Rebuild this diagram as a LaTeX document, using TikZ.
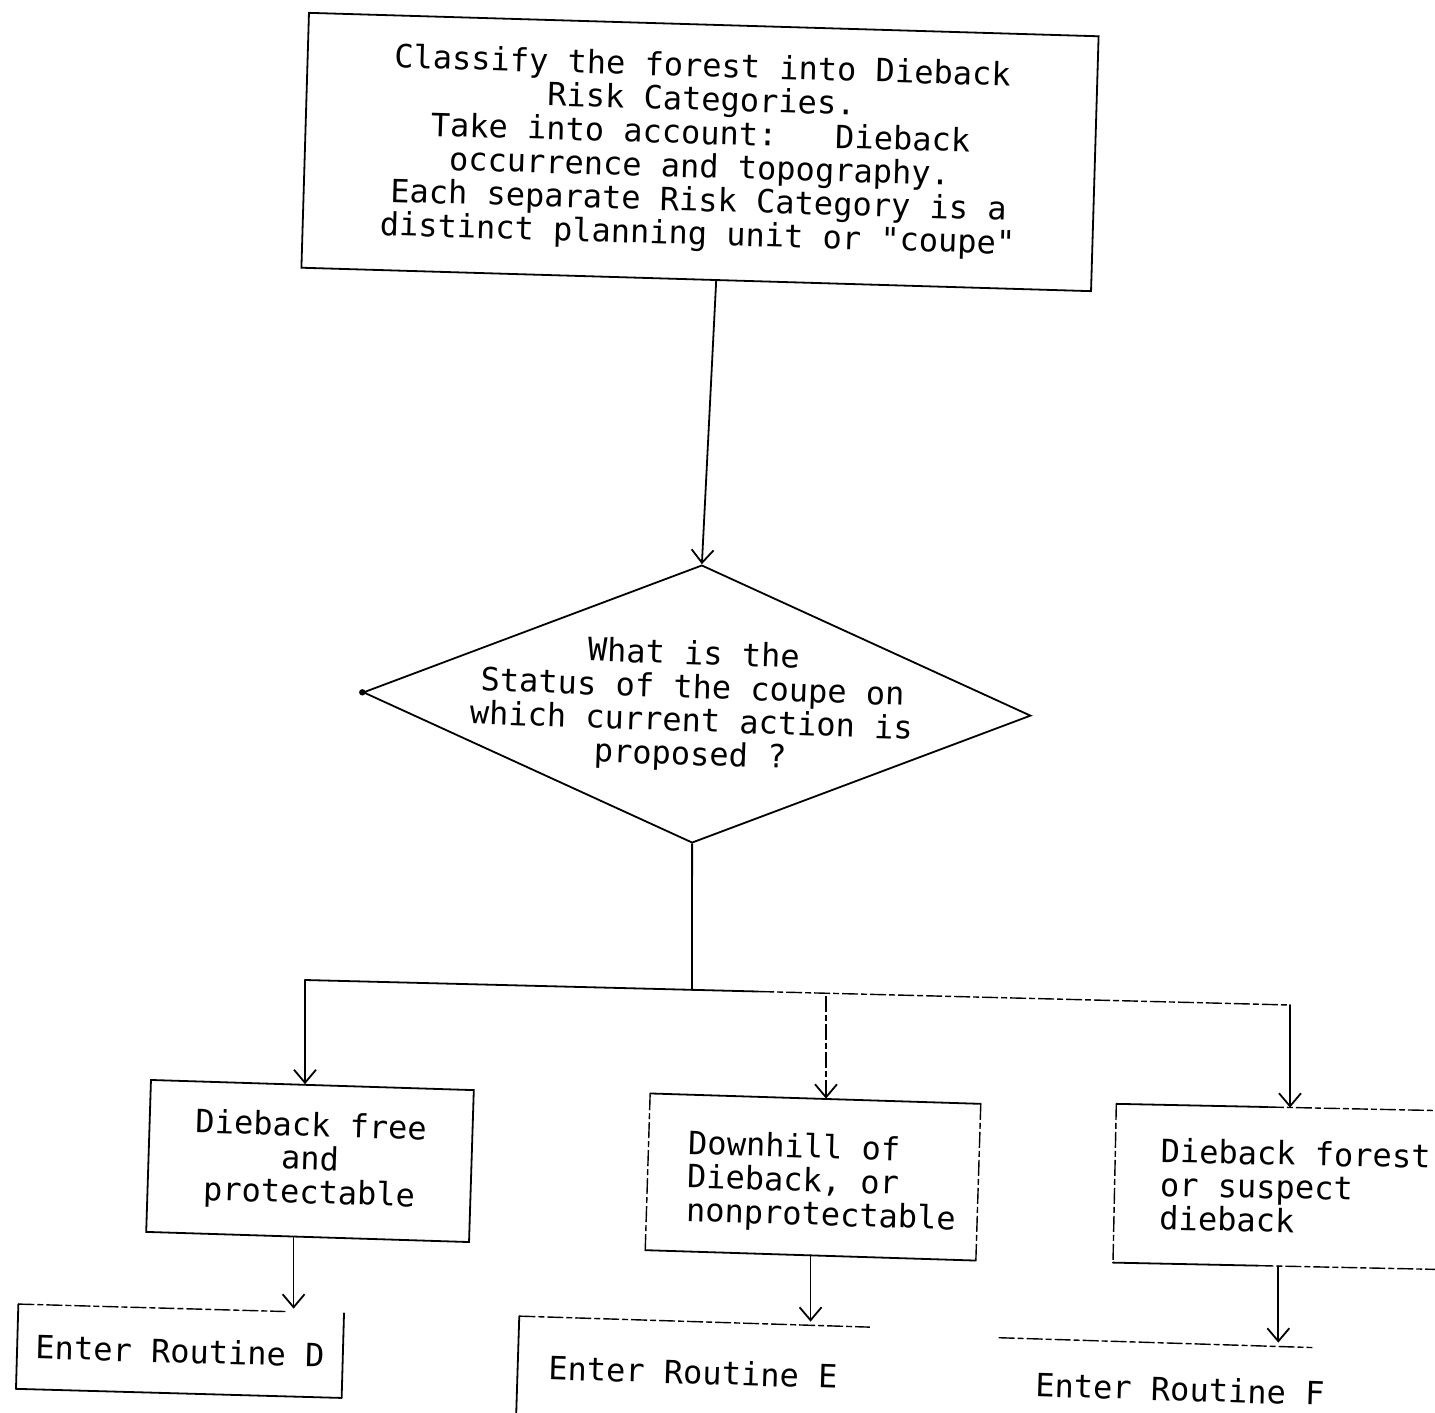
\documentclass[tikz,border=0pt]{standalone}
\usepackage{fontspec}
\setmonofont{DejaVu Sans Mono}
\usetikzlibrary{shapes.geometric,arrows.meta,calc}
\begin{document}
\begin{tikzpicture}[x=0.5pt,y=-0.5pt,
  every node/.style={font=\ttfamily\fontsize{16}{16.8}\selectfont, inner sep=0pt},
  ink/.style={line width=0.9pt, line cap=round},
  faint/.style={line width=0.7pt, dash pattern=on 8pt off 1.5pt on 3pt off 1.5pt},
  arr/.style={-{Straight Barb[length=6.5pt,width=11pt,line width=0.9pt]}}
]
\clip (0,0) rectangle (1435,1413);

% --- classification box -------------------------------------------------
\node[draw, ink, rotate=-1.7, minimum width=395pt, minimum height=127.5pt, align=center]
  (classify) at (700,152)
  {Classify the forest into Dieback\\Risk Categories.\\Take into account:\ \ \ Dieback\\occurrence and topography.\\Each separate Risk Category is a\\distinct planning unit or "coupe"};

% --- decision diamond -----------------------------------------------------
\node[diamond, draw, ink, rotate=-2, minimum width=334pt, minimum height=139pt]
  (status) at (697,704) {};
\node[rotate=-2, align=center] (statustext) at (692,706)
  {What is the\\Status of the coupe on\\which current action is\\proposed ?};
\fill (status.west) circle (1.6pt);

\coordinate (classout) at ([xshift=10pt]classify.south);
\draw[ink, arr] (classout) -- (status.north);

% --- branching --------------------------------------------------------------
\coordinate (split) at (692,990);
\coordinate (bl) at (305,980);
\coordinate (bm) at (826,996);
\coordinate (br) at (1290,1005);
\coordinate (bsolid) at ($(bl)!0.46!(br)$);
\draw[ink] (status.south) -- (split);
\draw[ink] (bl) -- (bsolid);
\draw[faint] (bsolid) -- (br);

% --- status categories ------------------------------------------------------
\node[draw, ink, rotate=-1.8, minimum width=161.5pt, minimum height=76pt, align=center]
  (free) at (310,1161) {Dieback free\\and\\protectable};

\node[rotate=-1.8, minimum width=165pt, minimum height=78pt]
  (downhill) at (813,1177) {};
\node[rotate=-1.8, align=left] (downhilltext) at (822,1183)
  {Downhill of\\Dieback, or\\nonprotectable};
\draw[ink] (downhill.north west) -- (downhill.north east);
\draw[faint] (downhill.north east) -- (downhill.south east);
\draw[ink] (downhill.south east) -- (downhill.south west);
\draw[faint] (downhill.south west) -- (downhill.north west);

\node[rotate=-1.2, minimum width=180pt, minimum height=79pt, align=left]
  (infected) at (1295,1187) {Dieback forest\\or suspect\\dieback};
\coordinate (infTop) at ($(infected.north west)!0.42!(infected.north east)$);
\coordinate (infBot) at ($(infected.south west)!0.40!(infected.south east)$);
\draw[ink] (infected.north west) -- (infTop);
\draw[faint] (infTop) -- (infected.north east);
\draw[faint] (infected.north west) -- (infected.south west);
\draw[ink] (infected.south west) -- (infBot);
\draw[faint] (infBot) -- (infected.south east);

\draw[ink, arr] (bl) -- (bl |- free.north);
\draw[faint, arr] (bm) -- (bm |- downhill.north);
\draw[ink, arr] (br) -- (br |- infected.north);

% --- routines ---------------------------------------------------------------
\node[rotate=-1.6, minimum width=162.5pt, minimum height=42pt]
  (routineD) at (180,1351) {Enter Routine D};
\coordinate (rDtop) at ($(routineD.north west)!0.82!(routineD.north east)$);
\draw[faint] (routineD.north west) -- (rDtop);
\draw[ink] (routineD.north west) -- (routineD.south west);
\draw[ink] (routineD.north east) -- (routineD.south east);
\draw[ink] (routineD.south west) -- (routineD.south east);

\node[rotate=-1.8, minimum width=175pt, minimum height=50pt]
  (routineE) at (693,1372) {Enter Routine E};
\draw[faint] (routineE.north west) -- (routineE.north east);
\draw[ink] (routineE.north west) -- (routineE.south west);

\node[rotate=-1.8, minimum width=156.5pt, minimum height=46pt]
  (routineF) at (1180,1389) {Enter Routine F};
\draw[faint] ([xshift=-13pt]routineF.north west) -- ([xshift=-13pt]routineF.north east);

\coordinate (freeout) at ([xshift=-7pt]free.south);
\draw[ink, arr] (freeout) -- (freeout |- routineD.north);
\draw[ink, arr] (downhill.south) -- (downhill.south |- routineE.north);
\coordinate (infout) at ([xshift=-7.5pt]infected.south);
\draw[ink, arr] (infout) -- (infout |- routineF.north);
\end{tikzpicture}
\end{document}
